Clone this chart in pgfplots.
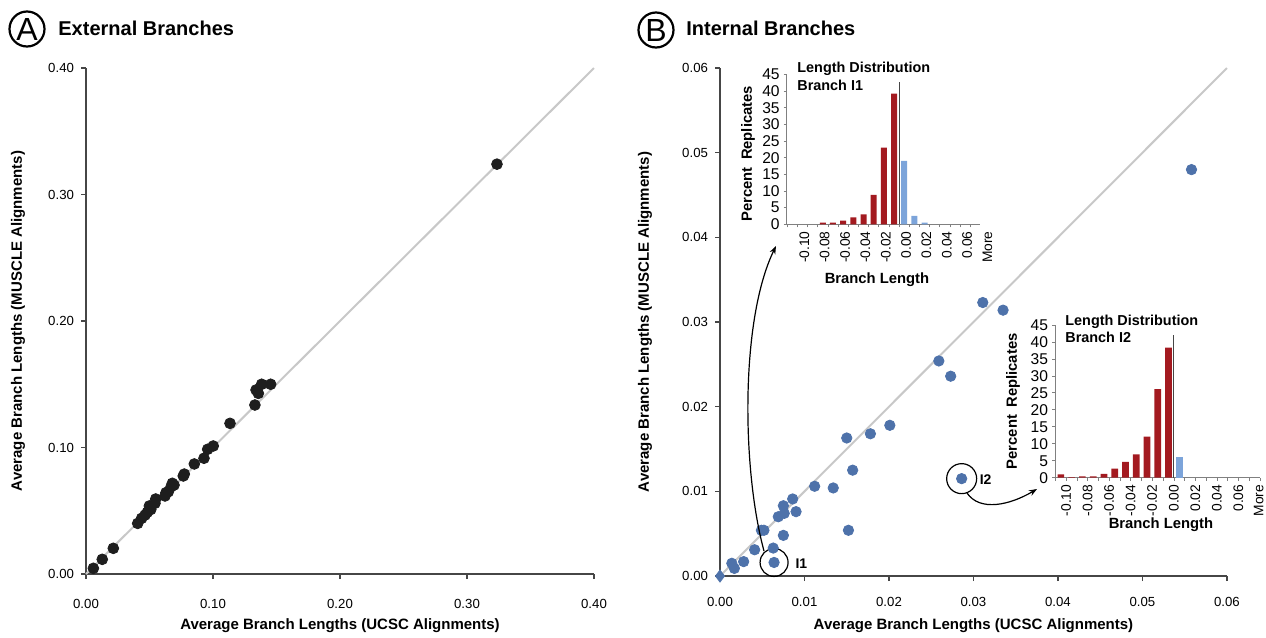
\documentclass[border=0pt]{standalone}
\usepackage{fontspec}
\setmainfont{Liberation Sans}
\usepackage{pgfplots}
\pgfplotsset{compat=1.18}
\usetikzlibrary{arrows.meta}

\definecolor{axgray}{RGB}{70,70,70}
\definecolor{diag}{RGB}{200,200,200}
\definecolor{ptblack}{RGB}{30,30,30}
\definecolor{ptblue}{RGB}{78,114,170}
\definecolor{barred}{RGB}{163,26,32}
\definecolor{barblue}{RGB}{124,164,218}

\newcommand{\fs}[1]{\fontsize{#1}{#1}\selectfont}

\pgfplotsset{
  mainax/.style={
    scale only axis, anchor=south west,
    axis lines=left, axis line style={-, draw=axgray, line width=0.8pt},
    tick align=outside, major tick length=2.5pt,
    tick style={draw=axgray, line width=0.7pt},
    ticklabel style={font=\fs{6.6}},
    label style={font=\bfseries\fs{7.5}},
    scaled ticks=false,
    clip=false,
    /pgf/number format/assume math mode=true,
  },
  inset/.style={
    scale only axis, anchor=south west,
    axis lines=left, axis line style={-, draw=gray, line width=0.5pt},
    tick align=outside, major tick length=0pt, minor tick length=1.5pt,
    tick style={draw=gray, line width=0.4pt},
    ymin=0, ymax=45, ytick={0,5,...,45}, minor ytick={0,5,...,45},
    minor xtick={-0.5,0.5,...,18.5},
    xticklabels={-0.10,-0.08,-0.06,-0.04,-0.02,0.00,0.02,0.04,0.06,More},
    y tick label style={font=\fs{7.8}},
    x tick label style={font=\fs{6.9}, rotate=90, anchor=east},
    label style={font=\bfseries\fs{7.4}},
    scaled ticks=false,
    clip=false,
    /pgf/number format/assume math mode=true,
  },
}

\begin{document}
\begin{tikzpicture}
\path[use as bounding box] (0,0) rectangle (633pt,-319pt);

% ---------- A: external branches
\begin{axis}[mainax, at={(43pt,-287pt)}, width=254pt, height=253pt,
  xmin=0, xmax=0.4, ymin=0, ymax=0.4,
  xtick={0,0.1,0.2,0.3,0.4}, xticklabels={0.00,0.10,0.20,0.30,0.40},
  ytick={0,0.1,0.2,0.3,0.4}, yticklabels={0.00,0.10,0.20,0.30,0.40},
  xticklabel style={yshift=-6.5pt},
  xlabel={Average Branch Lengths (UCSC Alignments)},
  ylabel={Average Branch Lengths (MUSCLE Alignments)},
  xlabel style={at={(axis description cs:0.5,-0.103)}, anchor=center},
  ylabel style={at={(axis description cs:-0.134,0.5)}, anchor=center},
]
\addplot[diag, line width=1pt] coordinates {(0,0) (0.4,0.4)};
\addplot[only marks, mark=*, mark size=2.7pt, mark options={fill=ptblack, draw=ptblack}] coordinates {
  (0.0058,0.0045) (0.0128,0.0116) (0.0215,0.0203) (0.0407,0.0400)
  (0.0438,0.0440) (0.0465,0.0466) (0.0483,0.0488) (0.0499,0.0538)
  (0.0510,0.0510) (0.0543,0.0559) (0.0549,0.0593) (0.0622,0.0617)
  (0.0630,0.0643) (0.0648,0.0650) (0.0670,0.0690) (0.0680,0.0717)
  (0.0693,0.0703) (0.0766,0.0775) (0.0774,0.0790) (0.0853,0.0870)
  (0.0929,0.0915) (0.0958,0.0986) (0.1002,0.1012) (0.1134,0.1191)
  (0.1330,0.1336) (0.1339,0.1455) (0.1357,0.1428) (0.1383,0.1500)
  (0.1454,0.1500) (0.3236,0.3240)
};
\end{axis}

% ---------- B: internal branches
\begin{axis}[mainax, at={(360pt,-288pt)}, width=253.5pt, height=254pt,
  xmin=0, xmax=0.06, ymin=0, ymax=0.06,
  xtick={0,0.01,0.02,0.03,0.04,0.05,0.06},
  xticklabels={0.00,0.01,0.02,0.03,0.04,0.05,0.06},
  ytick={0,0.01,0.02,0.03,0.04,0.05,0.06},
  yticklabels={0.00,0.01,0.02,0.03,0.04,0.05,0.06},
  xticklabel style={yshift=-4.5pt},
  xlabel={Average Branch Lengths (UCSC Alignments)},
  ylabel={Average Branch Lengths (MUSCLE Alignments)},
  xlabel style={at={(axis description cs:0.5,-0.098)}, anchor=center},
  ylabel style={at={(axis description cs:-0.148,0.5)}, anchor=center},
]
\addplot[diag, line width=1pt] coordinates {(0,0) (0.06,0.06)};
\addplot[only marks, mark=diamond*, mark size=3pt, mark options={fill=ptblue, draw=ptblue}] coordinates {(0,0)};
\addplot[only marks, mark=*, mark size=2.6pt, mark options={fill=ptblue, draw=ptblue}] coordinates {
  (0.0014,0.0015) (0.0017,0.0009) (0.0028,0.0017) (0.0041,0.0031)
  (0.0049,0.0054) (0.0052,0.0054) (0.0063,0.0033) (0.0064,0.0016)
  (0.0069,0.0070) (0.0075,0.0083) (0.0076,0.0074) (0.0075,0.0048)
  (0.0086,0.0091) (0.0090,0.0076) (0.0112,0.0106) (0.0134,0.0104)
  (0.0150,0.0163) (0.0157,0.0125) (0.0152,0.0054) (0.0178,0.0168)
  (0.0201,0.0178) (0.0259,0.0254) (0.0273,0.0236) (0.0311,0.0323)
  (0.0335,0.0314) (0.0286,0.0115) (0.0558,0.0480)
};
\draw[black, line width=0.6pt] (axis cs:0.0064,0.0016) circle (7pt);
\node[anchor=west, font=\bfseries\fs{7}, inner sep=0pt] at (axis cs:0.0089,0.0015) {I1};
\draw[black, line width=0.6pt] (axis cs:0.0286,0.0115) circle (7.5pt);
\node[anchor=west, font=\bfseries\fs{7}, inner sep=0pt] at (axis cs:0.0307,0.0114) {I2};
\end{axis}

% ---------- inset I1
\begin{axis}[inset, at={(393.35pt,-112.15pt)}, width=96.65pt, height=75pt,
  xmin=-0.55, xmax=18.45,
  xtick={0.4,2.4,4.4,6.4,8.4,10.4,12.4,14.4,16.4,18.4},
  x tick label style={yshift=-4pt},
  xlabel={Branch Length}, ylabel={Percent\hspace{0.5em}Replicates},
  xlabel style={at={(axis description cs:0.467,-0.37)}, anchor=center},
  ylabel style={at={(axis description cs:-0.2,0.47)}, anchor=center},
]
\addplot[ybar, bar width=3pt, bar shift=0pt, fill=barred, draw=none] coordinates {
  (3,0.5) (4,0.5) (5,1.1) (6,2.1) (7,3.0) (8,8.8) (9,23.0) (10,39.2)
};
\addplot[ybar, bar width=3pt, bar shift=0pt, fill=barblue, draw=none] coordinates {
  (11,19.0) (12,2.5) (13,0.5)
};
\draw[axgray, line width=0.6pt] (axis cs:10.5,0) -- (axis cs:10.5,42.8);
\end{axis}

% ---------- inset I2
\begin{axis}[inset, at={(527.5pt,-238.85pt)}, width=102.5pt, height=76.35pt,
  xmin=-0.55, xmax=18.5,
  xtick={0.3,2.3,4.3,6.3,8.3,10.3,12.3,14.3,16.3,18.2},
  x tick label style={yshift=-1pt},
  xlabel={Branch Length}, ylabel={Percent\hspace{0.5em}Replicates},
  xlabel style={at={(axis description cs:0.517,-0.31)}, anchor=center},
  ylabel style={at={(axis description cs:-0.205,0.5)}, anchor=center},
]
\addplot[ybar, bar width=3.3pt, bar shift=0pt, fill=barred, draw=none] coordinates {
  (0,1.0) (1,0.2) (2,0.4) (3,0.4) (4,1.1) (5,2.65) (6,4.7) (7,6.9)
  (8,12.1) (9,26.1) (10,38.3)
};
\addplot[ybar, bar width=3.3pt, bar shift=0pt, fill=barblue, draw=none] coordinates {
  (11,6.2)
};
\draw[axgray, line width=0.6pt] (axis cs:10.43,0) -- (axis cs:10.43,42);
\end{axis}

% ---------- titles and annotations
\draw[line width=1.1pt] (13.5pt,-14.5pt) circle (8.75pt);
\node[font=\fs{16}] at (13.5pt,-14.5pt) {A};
\node[anchor=west, font=\bfseries\fs{10}, inner sep=0pt] at (29pt,-14pt) {External Branches};
\draw[line width=1.1pt] (328pt,-15pt) circle (8.75pt);
\node[font=\fs{16}] at (328pt,-15pt) {B};
\node[anchor=west, font=\bfseries\fs{10}, inner sep=0pt] at (343pt,-14pt) {Internal Branches};

\node[anchor=base west, font=\bfseries\fs{7.2}, inner sep=0pt] at (398.5pt,-36.35pt) {Length Distribution};
\node[anchor=base west, font=\bfseries\fs{7.2}, inner sep=0pt] at (398.5pt,-45.35pt) {Branch I1};
\node[anchor=base west, font=\bfseries\fs{7.2}, inner sep=0pt] at (532.5pt,-162.5pt) {Length Distribution};
\node[anchor=base west, font=\bfseries\fs{7.2}, inner sep=0pt] at (532.5pt,-171.35pt) {Branch I2};

\draw[-{Stealth[length=4pt,width=3pt]}, line width=0.6pt]
  (382pt,-275.5pt) .. controls (371pt,-235pt) and (370pt,-160pt) .. (388pt,-123pt);
\draw[-{Stealth[length=4pt,width=3pt]}, line width=0.6pt]
  (483.5pt,-246.5pt) .. controls (490pt,-256pt) and (505pt,-252.5pt) .. (518.5pt,-244.5pt);
\end{tikzpicture}
\end{document}
